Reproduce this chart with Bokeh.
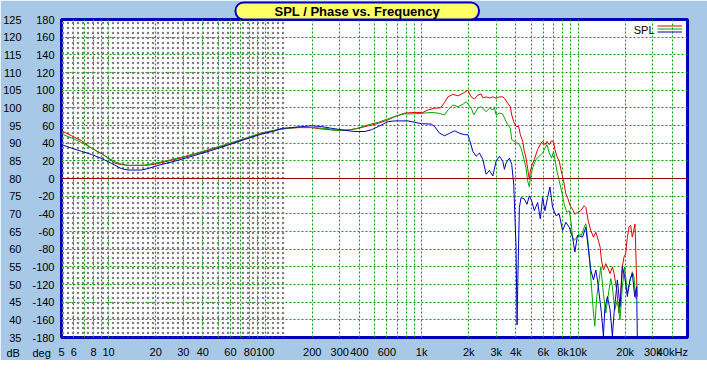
from bokeh.plotting import figure
from bokeh.models import (FixedTicker, LinearAxis, Span, Label, Legend, LegendItem,
                          BoxAnnotation, Range1d, Title)
from bokeh.embed import file_html
from bokeh.resources import INLINE

# ---------------- data ----------------
red_freq = [5, 5.79, 6.71, 7.77, 8.99, 9.91, 10.93, 11.76, 13.29, 16.97, 19.65, 23.9, 29.06, 35.3,
            45.1, 57.6, 73.6, 93.9, 114,
            128, 141, 163, 198, 230, 266, 301, 340, 393, 456, 528, 611, 690, 780, 903, 1020, 1098,
            1211, 1322, 1402, 1472, 1584, 1705, 1835, 1975, 2073, 2177, 2286, 2401,
            2461, 2585, 2714, 2850, 2993, 3143, 3300, 3382, 3551, 3692, 3765, 3878, 4013, 4172, 4276,
            4424, 4534, 4646, 4761, 4879, 4951, 5049, 5250, 5513, 5789, 5933, 6139, 6322, 6542, 6771,
            6972, 7109, 7321, 7576, 7762, 8072, 8357, 8563, 8901, 9215, 9535, 9916, 10410, 10931,
            11202, 11591, 12053, 12534, 12971, 13292, 13822, 14094, 14514, 15020, 15391, 16004,
            16561, 16971, 17643, 18258, 18711, 19173, 19648, 20137, 20636, 21146, 21671, 22206,
            22754, 23092, 23662, 23895]
red_db = [93.5, 92.1, 90.7, 88.6, 87.1, 85.8, 84.4, 84.0, 83.7, 83.7, 84.0, 84.9, 85.8, 86.8,
          88.2, 89.6, 91.2, 92.7, 93.6,
          94.0, 94.2, 94.4, 94.4, 94.0, 93.8, 93.6, 93.7, 94.2, 94.9, 95.6, 96.6, 97.7, 98.5, 98.7,
          98.7, 99.4, 99.9, 100.0, 101.5, 103.1, 103.8, 103.4, 104.1, 105.0, 103.1, 102.5, 103.6,
          103.9,
          102.8, 103.1, 102.8, 103.1, 102.7, 103.1, 103.1, 102.7, 101.3, 100.3, 98.0, 96.1, 94.7,
          94.7, 92.4, 90.5, 87.7, 85.8, 82.8, 79.7, 82.1, 83.5, 85.4, 88.2, 90.0, 90.5, 89.6, 90.5,
          89.6, 90.7, 90.3, 88.2, 86.3, 84.9, 82.6, 79.3, 75.6, 74.6, 72.3, 71.3, 69.9, 70.4, 70.9,
          72.3, 71.8, 68.1, 65.3, 63.4, 64.8, 63.4, 60.6, 56.9, 54.1, 55.9, 55.0, 53.1, 55.0, 53.1,
          48.5, 41.9, 47.5, 55.0, 57.8, 58.7, 63.4, 66.2, 66.7, 63.4, 65.7, 67.1, 51.3, 46.6]

green_freq = [5, 5.79, 6.71, 7.77, 8.99, 10.16, 11.48, 13.29, 16.97, 19.65, 23.9, 29.06, 35.3, 45.1,
              57.6, 73.6, 93.9, 114,
              128, 141, 163, 208, 253, 266, 308, 375, 456, 528, 611, 690, 780, 903, 1046, 1153,
              1272, 1402, 1472, 1584, 1705, 1835, 1927, 2073, 2156, 2286, 2401,
              2461, 2585, 2714, 2850, 2921, 2993, 3143, 3300, 3382, 3551, 3692, 3765, 3916, 4013,
              4153, 4318, 4490, 4646, 4761, 4879, 4951, 5124, 5379, 5651, 5933, 6139, 6322, 6542,
              6771, 6972, 7109, 7321, 7576, 7838, 8151, 8476, 8775, 8991, 9215, 9442, 9819, 10157,
              10511, 10931, 11202, 11478, 11763, 12172, 12534, 12782, 13162, 13620, 13957, 14514,
              15020, 15542, 16162, 16561, 17137, 17817, 18528, 19173, 19841, 20636, 21458, 22206,
              22754, 23316]
green_db = [92.6, 91.5, 90.2, 88.6, 87.0, 85.6, 84.3, 83.7, 83.8, 84.3, 85.1, 86.0, 87.0, 88.4,
            89.8, 91.3, 92.9, 93.6,
            94.0, 94.2, 94.5, 94.4, 94.1, 93.7, 93.6, 94.0, 95.2, 95.9, 96.9, 97.7, 98.3, 98.3,
            98.5, 98.7, 98.5, 98.0, 99.4, 100.8, 100.3, 101.0, 101.7, 99.9, 98.0, 99.9, 100.3,
            99.9, 98.9, 99.9, 99.4, 100.0, 98.0, 98.5, 98.2, 97.1, 95.2, 94.2, 91.0, 90.5, 90.0,
            90.0, 88.6, 85.8, 83.0, 79.3, 77.6, 80.2, 83.0, 85.4, 86.3, 87.2, 88.6, 89.6, 87.2,
            85.8, 87.7, 85.4, 82.1, 79.3, 76.5, 72.7, 70.4, 70.9, 68.1, 63.4, 62.5, 63.4, 64.3,
            63.9, 66.2, 67.2, 63.4, 58.7, 49.4, 41.9, 38.2, 46.6, 51.3, 55.0, 47.5, 41.9, 46.6,
            51.7, 49.4, 42.8, 45.6, 40.0, 49.4, 55.0, 47.5, 51.3, 53.6, 52.2, 46.1]

blue_freq = [5, 5.79, 6.71, 7.77, 8.99, 10.41, 12.05, 13.29, 16.16, 17.82, 20.64, 23.9, 29.06, 35.3,
             45.1, 57.6, 73.6, 93.9, 114,
             128, 148, 171, 198, 230, 266, 308, 340, 375, 434, 478, 528, 611, 674, 819, 903, 996,
             1153, 1211, 1303, 1402, 1509, 1624, 1747, 1880, 1975, 2023, 2125, 2231, 2343,
             2461, 2585, 2714, 2850, 2993, 3143, 3300, 3382, 3466, 3639, 3765, 3878, 4013, 4073,
             4112, 4214, 4318, 4534, 4715, 4879, 5049, 5250, 5513, 5733, 5933, 6139, 6384, 6606,
             6871, 7215, 7576, 7954, 8357, 8775, 9215, 9535, 9916, 10667, 11202, 11591, 12053,
             12534, 12971, 13292, 13620, 14094, 14514, 14801, 15391, 16004, 16561, 16971, 17817,
             18528, 19173, 19841, 20636, 21458, 22206, 22978, 23662, 23895]
blue_db = [89.6, 88.6, 87.7, 86.8, 85.7, 84.3, 82.8, 82.4, 82.4, 82.8, 83.7, 84.4, 85.4, 86.5,
           87.9, 89.4, 91.0, 92.5, 93.4,
           94.2, 94.4, 94.7, 94.9, 94.7, 94.2, 93.8, 93.5, 93.3, 93.3, 93.8, 94.7, 96.1, 96.3, 96.3,
           95.9, 95.5, 95.4, 94.7, 92.8, 92.1, 92.8, 93.5, 92.8, 92.4, 92.4, 91.0, 87.7, 86.3, 87.2,
           85.4, 81.2, 82.3, 80.7, 84.9, 86.3, 84.9, 82.6, 84.4, 85.8, 84.0, 78.4, 60.6, 38.6,
           49.4, 71.8, 74.6, 74.2, 72.7, 75.1, 73.7, 70.9, 73.2, 68.6, 74.6, 70.9, 74.6, 77.6,
           71.8, 69.5, 69.9, 65.3, 67.6, 66.2, 63.4, 59.2, 63.9, 63.4, 66.2, 60.6, 54.1, 51.3,
           54.1, 51.3, 47.5, 41.9, 35.4, 42.8, 46.6, 42.8, 35.4, 41.9, 51.3, 43.8, 55.0, 52.2,
           46.6, 51.3, 53.1, 46.6, 49.4, 34.9]

db_ticks = [35, 40, 45, 50, 55, 60, 65, 70, 75, 80, 85, 90, 95, 100, 105, 110, 115, 120, 125]
deg_labels = ["-180", "-160", "-140", "-120", "-100", "-80", "-60", "-40", "-20", "0",
              "20", "40", "60", "80", "100", "120", "140", "160", "180"]
db_caption = "dB"
deg_caption = "deg"
freq_ticks = [5, 6, 8, 10, 20, 30, 40, 60, 80, 100, 200, 300, 400, 600,
              1000, 2000, 3000, 4000, 6000, 8000, 10000, 20000, 30000, 40000]
freq_labels = ["5", "6", "8", "10", "20", "30", "40", "60", "80", "100", "200", "300", "400", "600",
               "1k", "2k", "3k", "4k", "6k", "8k", "10k", "20k", "30k", "40kHz"]
grid_freqs = [m * 10 ** e for e in range(0, 5) for m in range(1, 10) if 5 < m * 10 ** e < 50000]

title_text = "SPL / Phase vs. Frequency"
legend_text = "SPL"

FONT = "Liberation Sans"
BG = "#a8c8e8"
FRAME = "#0000c0"
GRID = "#00a000"

p = figure(width=707, height=360, x_axis_type="log",
           x_range=Range1d(5, 50000), y_range=Range1d(35, 125),
           output_backend="svg", toolbar_location=None,
           min_border_left=59, min_border_right=20, min_border_top=17, min_border_bottom=22)
p.border_fill_color = BG
p.background_fill_color = "white"
p.outline_line_color = FRAME
p.outline_line_width = 3

# title in a rounded yellow box
p.title.text = title_text
p.title.align = "left"
p.title.offset = 174
p.title.standoff = 0
p.title.text_font = FONT
p.title.text_font_style = "bold"
p.title.text_font_size = "13px"
p.title.text_color = "black"
p.title.background_fill_color = "#ffff66"
p.title.border_line_color = FRAME
p.title.border_line_width = 2
p.title.border_radius = 8
p.title.padding = (39, 1)

# grids
p.xgrid.ticker = FixedTicker(ticks=grid_freqs)
p.ygrid.ticker = FixedTicker(ticks=db_ticks[1:-1])
for g in (p.xgrid, p.ygrid):
    g.grid_line_color = GRID
    g.grid_line_dash = "2 2"
    g.grid_line_width = 1

# fine dot texture in the low-frequency region
p.add_layout(BoxAnnotation(left=5, right=137, fill_color=None, line_color=None,
                           hatch_pattern="dot", hatch_scale=5, hatch_weight=0.5,
                           hatch_color="#808080", level="underlay"))

# x axis
xa = p.xaxis[0]
xa.ticker = FixedTicker(ticks=freq_ticks)
xa.major_label_overrides = {t: l for t, l in zip(freq_ticks, freq_labels)}
xa.major_label_standoff = 8

# inner y axis: degrees
ya = p.yaxis[0]
ya.ticker = FixedTicker(ticks=db_ticks)
ya.major_label_overrides = {t: l for t, l in zip(db_ticks, deg_labels)}
ya.major_label_standoff = 7

# outer y axis: dB
yb = LinearAxis(ticker=FixedTicker(ticks=db_ticks),
                major_label_overrides={t: str(t) for t in db_ticks})
yb.major_label_standoff = 8
p.add_layout(yb, "left")

for ax in (xa, ya, yb):
    ax.axis_line_color = None
    ax.major_tick_in = 0
    ax.major_tick_out = 0
    ax.minor_tick_in = 0
    ax.minor_tick_out = 0
    ax.major_label_text_font = FONT
    ax.major_label_text_font_size = "11px"
    ax.major_label_text_color = "black"

# unit captions in the tick-label row, left of the frame
for cap, off in ((db_caption, -55), (deg_caption, -29)):
    p.add_layout(Title(text=cap + "\n", align="left", offset=off, standoff=-28,
                       vertical_align="top", text_font=FONT, text_font_size="11px",
                       text_font_style="normal", text_color="black"), "below")

# 0 degree line
p.add_layout(Span(location=80, dimension="width", line_color="#a00000", line_width=1))

# curves
r_red = p.line(red_freq, red_db, line_color="#e00000", line_width=1)
r_green = p.line(green_freq, green_db, line_color="#00a800", line_width=1)
r_blue = p.line(blue_freq, blue_db, line_color="#0000b8", line_width=1)

# legend glyphs (three stacked lines)
leg = Legend(items=[LegendItem(label="", renderers=[r]) for r in (r_red, r_green, r_blue)],
             location="top_right", orientation="vertical",
             glyph_width=25, glyph_height=3, label_height=3, label_width=0,
             label_standoff=0, label_text_font_size="1px", spacing=0, padding=0, margin=5,
             background_fill_alpha=0, border_line_color=None)
p.add_layout(leg)

p.add_layout(Label(x=593, y=308, x_units="screen", y_units="screen", text=legend_text,
                   text_font=FONT, text_font_size="11px", text_align="right",
                   text_baseline="middle", text_color="black"))

open("out.html", "w").write(file_html(p, INLINE))
